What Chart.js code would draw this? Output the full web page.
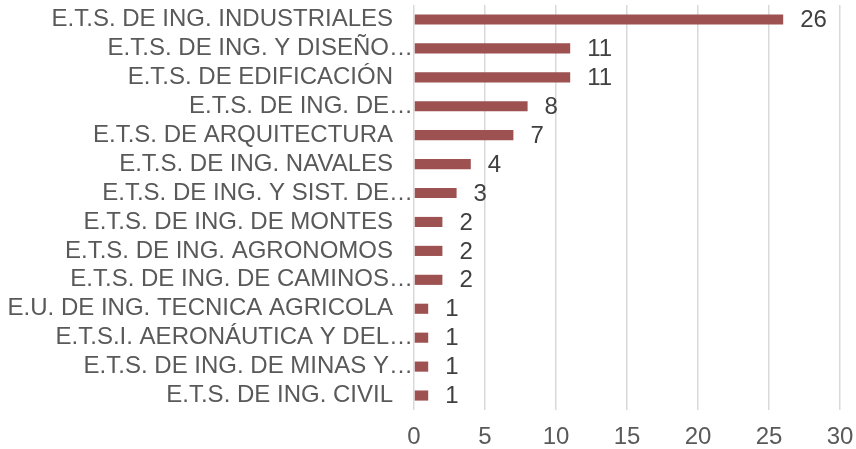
<!DOCTYPE html>
<html>
<head>
<meta charset="utf-8">
<script src="https://cdn.jsdelivr.net/npm/chart.js@4"></script>
<style>
  html, body { margin: 0; padding: 0; background: #fff; }
  #wrap { width: 856px; height: 449px; }
</style>
</head>
<body>
<div id="wrap"><canvas id="barChart"></canvas></div>
<script>
// escuelas
const labels = [
    'E.T.S. DE ING. INDUSTRIALES',
    'E.T.S. DE ING. Y DISEÑO…',
    'E.T.S. DE EDIFICACIÓN',
    'E.T.S. DE ING. DE…',
    'E.T.S. DE ARQUITECTURA',
    'E.T.S. DE ING. NAVALES',
    'E.T.S. DE ING. Y SIST. DE…',
    'E.T.S. DE ING. DE MONTES',
    'E.T.S. DE ING. AGRONOMOS',
    'E.T.S. DE ING. DE CAMINOS…',
    'E.U. DE ING. TECNICA AGRICOLA',
    'E.T.S.I. AERONÁUTICA Y DEL…',
    'E.T.S. DE ING. DE MINAS Y…',
    'E.T.S. DE ING. CIVIL'
];
// valores
const values = [26, 11, 11, 8, 7, 4, 3, 2, 2, 2, 1, 1, 1, 1];
// eje x
const xTicks = [0, 5, 10, 15, 20, 25, 30];

const fontFamily = '"Liberation Sans", Arial, sans-serif';

const valueLabels = {
    id: 'valueLabels',
    afterDatasetsDraw(chart) {
        const ctx = chart.ctx;
        ctx.save();
        ctx.font = `24px ${fontFamily}`;
        ctx.fillStyle = '#404040';
        ctx.textAlign = 'left';
        ctx.textBaseline = 'middle';
        chart.getDatasetMeta(0).data.forEach((bar, i) => {
            ctx.fillText(values[i], bar.x + 17, bar.y + 1);
        });
        ctx.restore();
    }
};

new Chart(document.getElementById('barChart'), {
    type: 'bar',
    data: {
        labels: labels,
        datasets: [{
            data: values,
            backgroundColor: '#9E5151',
            barPercentage: 0.35,
            categoryPercentage: 1
        }]
    },
    options: {
        indexAxis: 'y',
        responsive: true,
        maintainAspectRatio: false,
        animation: false,
        layout: {
            padding: { top: 5, right: 16, left: 0, bottom: 0 }
        },
        plugins: {
            legend: { display: false },
            tooltip: { enabled: false }
        },
        scales: {
            x: {
                min: 0,
                max: 30,
                afterBuildTicks: scale => {
                    scale.ticks = xTicks.map(v => ({ value: v }));
                },
                afterFit: scale => {
                    scale.height = 39;
                    scale.paddingLeft = 0;
                    scale.paddingRight = 0;
                },
                grid: {
                    color: '#D9D9D9',
                    lineWidth: 1.5,
                    drawTicks: false
                },
                border: { display: false },
                ticks: {
                    color: '#595959',
                    padding: 13,
                    font: { family: fontFamily, size: 24 }
                }
            },
            y: {
                afterFit: scale => {
                    scale.width = 414;
                    scale.paddingTop = 0;
                    scale.paddingBottom = 0;
                },
                grid: { display: false, drawTicks: false },
                border: { display: false },
                ticks: {
                    color: '#595959',
                    padding: 1,
                    autoSkip: false,
                    font: { family: fontFamily, size: 24 },
                    callback: function (value) {
                        const text = this.getLabelForValue(value);
                        return text.endsWith('…') ? text : text + '   ';
                    }
                }
            }
        }
    },
    plugins: [valueLabels]
});
</script>
</body>
</html>
